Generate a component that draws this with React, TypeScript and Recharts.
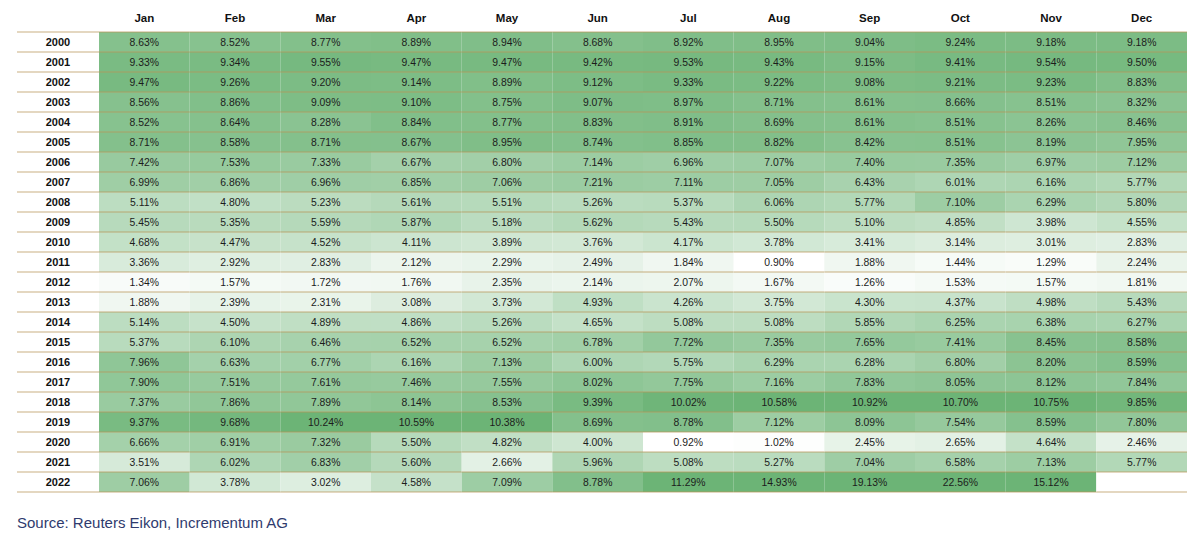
import React from 'react';
import { BarChart, Bar, XAxis, YAxis, LabelList } from 'recharts';

const months = ['Jan', 'Feb', 'Mar', 'Apr', 'May', 'Jun', 'Jul', 'Aug', 'Sep', 'Oct', 'Nov', 'Dec'];
const years = [
  '2000', '2001', '2002', '2003', '2004', '2005', '2006', '2007', '2008', '2009', '2010', '2011',
  '2012', '2013', '2014', '2015', '2016', '2017', '2018', '2019', '2020', '2021', '2022',
];

// monthly values in %, one array per year
const r2000 = [8.63, 8.52, 8.77, 8.89, 8.94, 8.68, 8.92, 8.95, 9.04, 9.24, 9.18, 9.18];
const r2001 = [9.33, 9.34, 9.55, 9.47, 9.47, 9.42, 9.53, 9.43, 9.15, 9.41, 9.54, 9.5];
const r2002 = [9.47, 9.26, 9.2, 9.14, 8.89, 9.12, 9.33, 9.22, 9.08, 9.21, 9.23, 8.83];
const r2003 = [8.56, 8.86, 9.09, 9.1, 8.75, 9.07, 8.97, 8.71, 8.61, 8.66, 8.51, 8.32];
const r2004 = [8.52, 8.64, 8.28, 8.84, 8.77, 8.83, 8.91, 8.69, 8.61, 8.51, 8.26, 8.46];
const r2005 = [8.71, 8.58, 8.71, 8.67, 8.95, 8.74, 8.85, 8.82, 8.42, 8.51, 8.19, 7.95];
const r2006 = [7.42, 7.53, 7.33, 6.67, 6.8, 7.14, 6.96, 7.07, 7.4, 7.35, 6.97, 7.12];
const r2007 = [6.99, 6.86, 6.96, 6.85, 7.06, 7.21, 7.11, 7.05, 6.43, 6.01, 6.16, 5.77];
const r2008 = [5.11, 4.8, 5.23, 5.61, 5.51, 5.26, 5.37, 6.06, 5.77, 7.1, 6.29, 5.8];
const r2009 = [5.45, 5.35, 5.59, 5.87, 5.18, 5.62, 5.43, 5.5, 5.1, 4.85, 3.98, 4.55];
const r2010 = [4.68, 4.47, 4.52, 4.11, 3.89, 3.76, 4.17, 3.78, 3.41, 3.14, 3.01, 2.83];
const r2011 = [3.36, 2.92, 2.83, 2.12, 2.29, 2.49, 1.84, 0.9, 1.88, 1.44, 1.29, 2.24];
const r2012 = [1.34, 1.57, 1.72, 1.76, 2.35, 2.14, 2.07, 1.67, 1.26, 1.53, 1.57, 1.81];
const r2013 = [1.88, 2.39, 2.31, 3.08, 3.73, 4.93, 4.26, 3.75, 4.3, 4.37, 4.98, 5.43];
const r2014 = [5.14, 4.5, 4.89, 4.86, 5.26, 4.65, 5.08, 5.08, 5.85, 6.25, 6.38, 6.27];
const r2015 = [5.37, 6.1, 6.46, 6.52, 6.52, 6.78, 7.72, 7.35, 7.65, 7.41, 8.45, 8.58];
const r2016 = [7.96, 6.63, 6.77, 6.16, 7.13, 6.0, 5.75, 6.29, 6.28, 6.8, 8.2, 8.59];
const r2017 = [7.9, 7.51, 7.61, 7.46, 7.55, 8.02, 7.75, 7.16, 7.83, 8.05, 8.12, 7.84];
const r2018 = [7.37, 7.86, 7.89, 8.14, 8.53, 9.39, 10.02, 10.58, 10.92, 10.7, 10.75, 9.85];
const r2019 = [9.37, 9.68, 10.24, 10.59, 10.38, 8.69, 8.78, 7.12, 8.09, 7.54, 8.59, 7.8];
const r2020 = [6.66, 6.91, 7.32, 5.5, 4.82, 4.0, 0.92, 1.02, 2.45, 2.65, 4.64, 2.46];
const r2021 = [3.51, 6.02, 6.83, 5.6, 2.66, 5.96, 5.08, 5.27, 7.04, 6.58, 7.13, 5.77];
const r2022 = [7.06, 3.78, 3.02, 4.58, 7.09, 8.78, 11.29, 14.93, 19.13, 22.56, 15.12, null];

const rows: (number | null)[][] = [
  r2000, r2001, r2002, r2003, r2004, r2005, r2006, r2007, r2008, r2009, r2010, r2011,
  r2012, r2013, r2014, r2015, r2016, r2017, r2018, r2019, r2020, r2021, r2022,
];

const LEFT = 17;
const YEAR_W = 82;
const RIGHT = 13;
const HEAD_H = 32;
const LINE = 'rgba(184, 150, 90, 0.5)';

// white -> green, clipped at the top like the source's conditional format
function heat(v: number | null) {
  if (v == null) return '#ffffff';
  const t = Math.max(0, Math.min(1, (v - 0.9) / (10.2 - 0.9)));
  const to = [108, 180, 118];
  const c = to.map((k) => Math.round(255 + (k - 255) * t));
  return `rgb(${c[0]},${c[1]},${c[2]})`;
}

const data = years.map((year, i) => {
  const d: Record<string, any> = { year };
  months.forEach((_, m) => {
    const v = rows[i][m];
    d[`m${m}`] = 1;
    d[`r${m}`] = v;
    d[`t${m}`] = v == null ? '' : `${v.toFixed(2)}%`;
  });
  return d;
});

const cellShape = (m: number) => (props: any) => {
  const { x, y, width, height, payload } = props;
  const last = payload.year === years[years.length - 1];
  return (
    <g>
      <rect x={x} y={y} width={width} height={height} fill={heat(payload[`r${m}`])} />
      <line x1={x} x2={x + width} y1={y} y2={y} stroke={LINE} strokeWidth={1.5} />
      {last && <line x1={x} x2={x + width} y1={y + height} y2={y + height} stroke={LINE} strokeWidth={1.5} />}
    </g>
  );
};

const cellLabel = (props: any) => {
  const { x, y, width, height, value } = props;
  if (!value) return null;
  return (
    <text x={x + width / 2} y={y + height / 2} dy="0.36em" textAnchor="middle" fontSize={10.4} fill="#1c1c1c">
      {value}
    </text>
  );
};

const YearTick = (props: any) => {
  const { y, payload, index } = props;
  const last = index === years.length - 1;
  return (
    <g>
      <line x1={LEFT} x2={LEFT + YEAR_W} y1={y - 10} y2={y - 10} stroke={LINE} strokeWidth={1.5} />
      {last && <line x1={LEFT} x2={LEFT + YEAR_W} y1={y + 10} y2={y + 10} stroke={LINE} strokeWidth={1.5} />}
      <text x={LEFT + YEAR_W / 2} y={y} dy="0.35em" textAnchor="middle" fontSize={11} fontWeight="bold" fill="#111">
        {payload.value}
      </text>
    </g>
  );
};

const MonthTick = (props: any) => {
  const { x, payload } = props;
  return (
    <text x={x} y={22} textAnchor="middle" fontSize={11.5} fontWeight="bold" fill="#111">
      {months[Math.floor(payload.value)]}
    </text>
  );
};

export default function App() {
  return (
    <div style={{ position: 'absolute', left: 0, top: 0, width: 1200, height: 541, background: '#fff', fontFamily: '"Liberation Sans", Arial, sans-serif' }}>
      <BarChart
        width={1200}
        height={494}
        data={data}
        layout="vertical"
        barCategoryGap={0}
        margin={{ top: 0, right: RIGHT, left: LEFT, bottom: 2 }}
        style={{ fontFamily: '"Liberation Sans", Arial, sans-serif' }}
      >
        <XAxis
          type="number"
          orientation="top"
          domain={[0, 12]}
          ticks={months.map((_, m) => m + 0.5)}
          height={HEAD_H}
          axisLine={false}
          tickLine={false}
          tick={<MonthTick />}
          interval={0}
        />
        <YAxis type="category" dataKey="year" width={YEAR_W} axisLine={false} tickLine={false} tick={<YearTick />} interval={0} />
        {months.map((mo, m) => (
          <Bar key={mo} dataKey={`m${m}`} stackId="a" isAnimationActive={false} shape={cellShape(m)}>
            <LabelList dataKey={`t${m}`} content={cellLabel} />
          </Bar>
        ))}
      </BarChart>
      <div style={{ position: 'absolute', left: LEFT, top: 515, fontSize: 15, lineHeight: '15px', color: '#2f3b6e' }}>
        Source: Reuters Eikon, Incrementum AG
      </div>
    </div>
  );
}
